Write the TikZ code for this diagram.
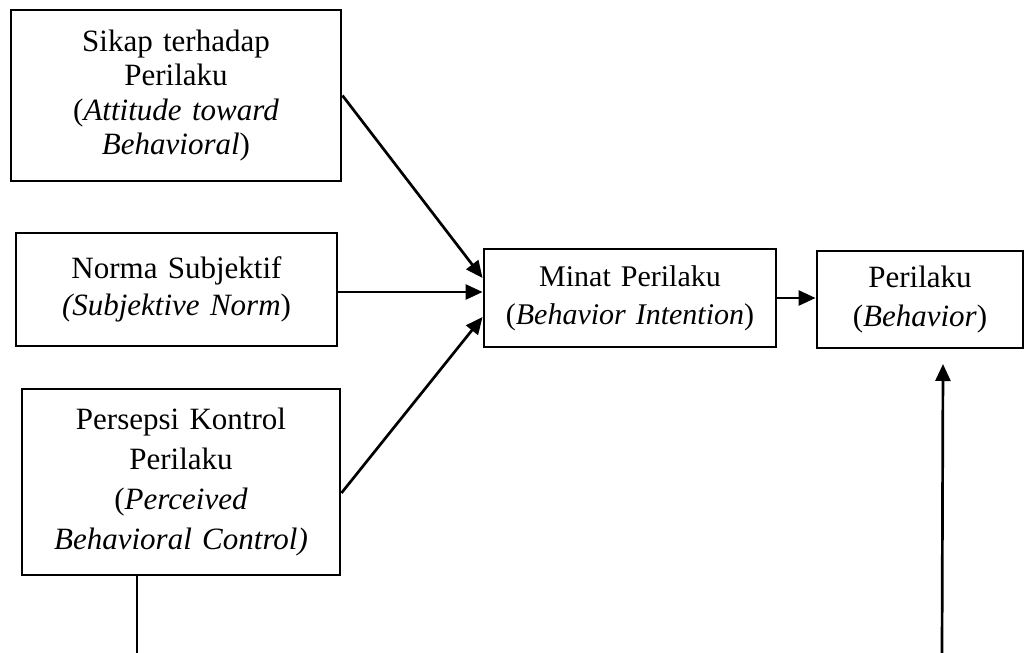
\documentclass[tikz,border=0pt]{standalone}
\usepackage{fontspec}
\setmainfont{Liberation Serif}
\usetikzlibrary{arrows.meta}
\tikzset{
  box/.style={draw, line width=2.9pt, rectangle, inner xsep=0pt, inner ysep=0pt,
    align=center, font=\fontsize{31}{34.5}\selectfont},
  conn/.style={line width=2.7pt},
  arr/.style={conn, -{Triangle[length=17pt,width=15pt]}}
}
\begin{document}
\begin{tikzpicture}[x=1pt,y=-1pt]
\useasboundingbox (0,0) rectangle (1026,653);
\node[box, minimum width=330pt, minimum height=171pt, text width=310pt] (b1) at (176,95.5)
  {Sikap terhadap\\ Perilaku\\ (\textit{Attitude toward}\\ \textit{Behavioral})};
\node[box, minimum width=321pt, minimum height=113pt, text width=300pt,
  font=\fontsize{31}{37}\selectfont] (b2) at (176.5,289.5)
  {Norma Subjektif\\ \textit{(Subjektive Norm})};
\node[box, minimum width=318pt, minimum height=186pt, text width=300pt,
  font=\fontsize{31}{40}\selectfont] (b3) at (181,482)
  {Persepsi Kontrol\\ Perilaku\\ (\textit{Perceived}\\ \textit{Behavioral Control)}};
\node[box, minimum width=292pt, minimum height=98pt, text width=280pt,
  font=\fontsize{30}{38}\selectfont] (minat) at (630,298)
  {Minat Perilaku\\ (\textit{Behavior Intention})};
\node[box, minimum width=206pt, minimum height=97pt, text width=196pt,
  font=\fontsize{31}{39}\selectfont] (per) at (920,299.5)
  {Perilaku\\ (\textit{Behavior})};
\coordinate (c1) at (137,653);
\coordinate (c2) at (942,653);
\coordinate (tip) at (943,364);
\draw[arr] (b1.east) -- ([yshift=20pt]minat.west);
\draw[arr] ([yshift=-2.5pt]b2.east) -- ([yshift=-2.5pt]b2.east -| minat.west);
\draw[arr] ([yshift=-11pt]b3.east) -- ([yshift=-19pt]minat.west);
\draw[arr] (minat.east) -- (minat.east -| per.west);
\draw[conn] (b3.south -| c1) -- (c1);
\draw[arr] (c2) -- (tip);
\end{tikzpicture}
\end{document}
